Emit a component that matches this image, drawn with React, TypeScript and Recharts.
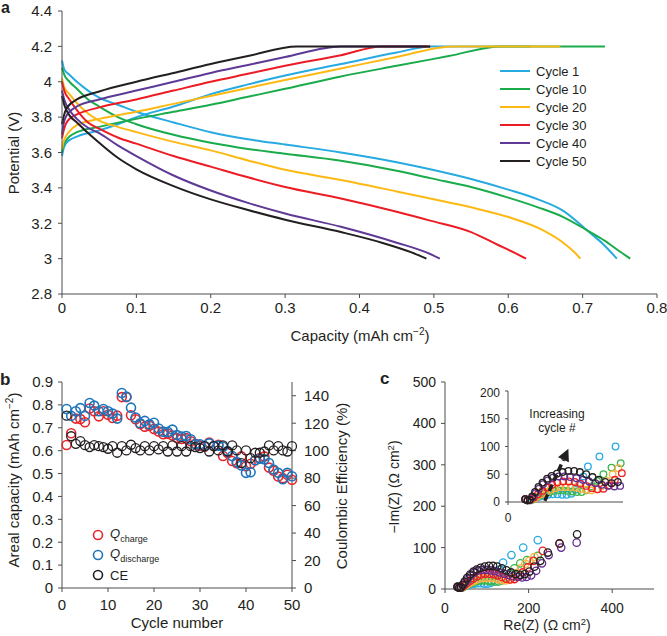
import React from 'react';
import { LineChart, Line, XAxis, YAxis, ScatterChart, Scatter, Legend } from 'recharts';

const FONT = '"Liberation Sans", Arial, Helvetica, sans-serif';
const INK = '#231f20';
const AXIS = '#4d4d4f';
const BOX = '#8a8a8a';

// ---------- panel a: charge / discharge profiles ----------
const cycleNames = ['Cycle 1', 'Cycle 10', 'Cycle 20', 'Cycle 30', 'Cycle 40', 'Cycle 50'];
const cycleColors = ['#27aae1', '#1aab4b', '#fdb913', '#ed1c24', '#5e3a96', '#231f20'];

const capTicks = [0, 0.1, 0.2, 0.3, 0.4, 0.5, 0.6, 0.7, 0.8];
const potTicks = [2.8, 3, 3.2, 3.4, 3.6, 3.8, 4, 4.2, 4.4];

// [capacity, potential]
const charge1 = [[0, 3.58], [0.002, 3.62], [0.005, 3.65], [0.01, 3.67], [0.02, 3.69], [0.05, 3.725], [0.075, 3.76], [0.1, 3.8], [0.15, 3.86], [0.2, 3.93], [0.25, 3.985], [0.3, 4.035], [0.375, 4.1], [0.45, 4.165], [0.495, 4.2], [0.63, 4.2]];
const charge10 = [[0, 3.6], [0.002, 3.64], [0.005, 3.665], [0.01, 3.69], [0.02, 3.715], [0.05, 3.745], [0.1, 3.79], [0.15, 3.83], [0.2, 3.87], [0.25, 3.915], [0.3, 3.96], [0.375, 4.03], [0.45, 4.09], [0.52, 4.145], [0.59, 4.2], [0.73, 4.2]];
const charge20 = [[0, 3.62], [0.002, 3.66], [0.005, 3.69], [0.01, 3.72], [0.02, 3.755], [0.05, 3.79], [0.1, 3.83], [0.15, 3.875], [0.2, 3.92], [0.25, 3.965], [0.3, 4.01], [0.375, 4.075], [0.45, 4.14], [0.525, 4.2], [0.67, 4.2]];
const charge30 = [[0, 3.68], [0.002, 3.72], [0.005, 3.76], [0.01, 3.79], [0.02, 3.815], [0.05, 3.855], [0.1, 3.9], [0.15, 3.95], [0.2, 4.0], [0.25, 4.045], [0.3, 4.09], [0.375, 4.15], [0.43, 4.2], [0.495, 4.2]];
const charge40 = [[0, 3.7], [0.002, 3.76], [0.005, 3.8], [0.01, 3.83], [0.02, 3.86], [0.05, 3.9], [0.1, 3.95], [0.15, 4.0], [0.2, 4.05], [0.25, 4.095], [0.3, 4.14], [0.375, 4.2], [0.49, 4.2]];
const charge50 = [[0, 3.76], [0.002, 3.8], [0.005, 3.84], [0.01, 3.87], [0.02, 3.9], [0.05, 3.945], [0.1, 4.0], [0.15, 4.05], [0.2, 4.1], [0.25, 4.145], [0.316, 4.2], [0.495, 4.2]];

const discharge1 = [[0, 4.12], [0.003, 4.07], [0.01, 4.04], [0.02, 4.0], [0.035, 3.95], [0.05, 3.91], [0.075, 3.87], [0.1, 3.83], [0.15, 3.77], [0.2, 3.715], [0.25, 3.675], [0.3, 3.645], [0.375, 3.6], [0.45, 3.545], [0.495, 3.505], [0.55, 3.45], [0.6, 3.39], [0.64, 3.335], [0.674, 3.27], [0.706, 3.16], [0.728, 3.08], [0.746, 3.0]];
const discharge10 = [[0, 4.08], [0.003, 4.04], [0.01, 4.0], [0.02, 3.96], [0.035, 3.9], [0.05, 3.86], [0.075, 3.8], [0.1, 3.76], [0.15, 3.7], [0.2, 3.655], [0.25, 3.62], [0.3, 3.593], [0.375, 3.553], [0.45, 3.497], [0.495, 3.455], [0.55, 3.405], [0.6, 3.345], [0.64, 3.29], [0.674, 3.235], [0.706, 3.16], [0.73, 3.1], [0.75, 3.04], [0.764, 3.0]];
const discharge20 = [[0, 4.02], [0.003, 3.97], [0.01, 3.93], [0.02, 3.88], [0.035, 3.82], [0.05, 3.78], [0.075, 3.745], [0.1, 3.715], [0.15, 3.66], [0.2, 3.612], [0.25, 3.555], [0.3, 3.502], [0.375, 3.445], [0.45, 3.38], [0.495, 3.34], [0.55, 3.29], [0.6, 3.235], [0.647, 3.16], [0.674, 3.09], [0.688, 3.04], [0.697, 3.0]];
const discharge30 = [[0, 4.0], [0.003, 3.95], [0.01, 3.9], [0.02, 3.84], [0.035, 3.77], [0.05, 3.735], [0.075, 3.685], [0.1, 3.65], [0.15, 3.58], [0.2, 3.52], [0.25, 3.46], [0.3, 3.405], [0.375, 3.34], [0.45, 3.265], [0.495, 3.215], [0.55, 3.15], [0.585, 3.08], [0.61, 3.03], [0.624, 3.0]];
const discharge40 = [[0, 3.95], [0.003, 3.9], [0.01, 3.84], [0.02, 3.79], [0.035, 3.74], [0.05, 3.71], [0.075, 3.64], [0.1, 3.58], [0.15, 3.47], [0.2, 3.385], [0.25, 3.315], [0.3, 3.255], [0.375, 3.18], [0.45, 3.09], [0.49, 3.035], [0.508, 3.0]];
const discharge50 = [[0, 3.92], [0.003, 3.87], [0.01, 3.81], [0.02, 3.77], [0.035, 3.71], [0.05, 3.655], [0.075, 3.57], [0.1, 3.505], [0.15, 3.41], [0.2, 3.335], [0.25, 3.275], [0.3, 3.22], [0.375, 3.15], [0.43, 3.09], [0.47, 3.035], [0.49, 3.0]];

const chargeCurves = [charge1, charge10, charge20, charge30, charge40, charge50];
const dischargeCurves = [discharge1, discharge10, discharge20, discharge30, discharge40, discharge50];

// ---------- panel b: cycling ----------
const cycleNumbers = Array.from({ length: 50 }, (_, i) => i + 1);
const cycleTicks = [0, 10, 20, 30, 40, 50];
const arealTicks = [0, 0.1, 0.2, 0.3, 0.4, 0.5, 0.6, 0.7, 0.8, 0.9];
const ceTicks = [0, 20, 40, 60, 80, 100, 120, 140];

const qCharge = [0.625, 0.676, 0.74, 0.738, 0.724, 0.784, 0.772, 0.75, 0.772, 0.757, 0.743, 0.753, 0.834, 0.834, 0.755, 0.737, 0.716, 0.705, 0.709, 0.695, 0.684, 0.672, 0.674, 0.666, 0.655, 0.651, 0.655, 0.641, 0.63, 0.622, 0.617, 0.636, 0.62, 0.626, 0.577, 0.59, 0.555, 0.545, 0.575, 0.532, 0.543, 0.558, 0.568, 0.575, 0.526, 0.512, 0.487, 0.48, 0.495, 0.473];
const qDischarge = [0.782, 0.752, 0.772, 0.786, 0.752, 0.808, 0.797, 0.772, 0.782, 0.772, 0.762, 0.74, 0.852, 0.836, 0.788, 0.745, 0.72, 0.73, 0.715, 0.722, 0.697, 0.683, 0.682, 0.692, 0.668, 0.662, 0.664, 0.65, 0.628, 0.628, 0.62, 0.632, 0.62, 0.622, 0.617, 0.598, 0.577, 0.55, 0.535, 0.503, 0.506, 0.558, 0.565, 0.562, 0.546, 0.518, 0.503, 0.475, 0.503, 0.488];
const coulombicEff = [125.5, 110.5, 105, 107, 104, 102.6, 104, 103.3, 102.6, 101.4, 103.3, 98.5, 103.3, 100.2, 104.3, 101.9, 100.2, 103.3, 100.2, 103.3, 100.9, 103.3, 99.4, 103.8, 99.4, 103.3, 99.4, 103.3, 102.6, 101.9, 103.3, 99.4, 103.3, 100.2, 103.8, 99.4, 103.8, 100.2, 91, 100.2, 94.5, 98.5, 98.5, 99.4, 103.8, 100.2, 103.3, 100.2, 99.4, 103.3];

// ---------- panel c: impedance ----------
const eisColors = ['#29abe2', '#39b54a', '#fbb040', '#ed1c24', '#662d91', '#231f20'];
const zTicks = [0, 200, 400];
const imTicks = [0, 50, 100, 150, 200, 250, 300, 350, 400, 450, 500];
const insetTicks = [0, 50, 100, 150, 200];

const reC1 = [30, 34, 39, 44, 50, 56, 63, 70, 78, 86, 94, 102, 110, 117, 124, 131, 139, 159, 187, 222];
const imC1 = [5, 3, 3, 5, 8, 10, 12, 13, 14, 14, 13, 13, 15, 22, 33, 46, 64, 82, 100, 118];
const reC10 = [30, 34, 39, 44, 50, 57, 64, 72, 80, 88, 96, 104, 112, 120, 128, 136, 145, 155, 166, 180, 196, 222];
const imC10 = [5, 3, 3, 5, 9, 12, 15, 18, 20, 21, 21, 20, 19, 18, 18, 21, 28, 38, 50, 62, 70, 80];
const reC20 = [30, 34, 39, 45, 51, 58, 66, 74, 82, 91, 100, 109, 118, 127, 136, 145, 154, 163, 172, 182, 192, 202, 214];
const imC20 = [5, 3, 3, 6, 10, 14, 18, 22, 25, 27, 27, 27, 26, 24, 22, 21, 23, 29, 38, 50, 61, 68, 77];
const reC30 = [30, 34, 39, 45, 52, 60, 68, 77, 86, 96, 106, 116, 126, 136, 146, 156, 166, 176, 186, 198, 212, 234, 274];
const imC30 = [5, 3, 4, 8, 14, 20, 26, 31, 35, 37, 37, 36, 33, 29, 25, 23, 24, 30, 40, 52, 68, 92, 110];
const reC40 = [30, 34, 38, 43, 48, 54, 61, 69, 78, 88, 98, 108, 119, 130, 141, 152, 163, 174, 185, 195, 206, 218, 232, 248, 278, 315];
const imC40 = [5, 3, 4, 9, 16, 24, 32, 39, 44, 46, 46, 45, 43, 40, 37, 34, 31, 29, 28, 29, 33, 44, 62, 82, 100, 112];
const reC50 = [30, 34, 38, 42, 47, 53, 60, 68, 76, 85, 95, 105, 115, 125, 136, 147, 158, 169, 180, 191, 202, 214, 228, 246, 274, 316];
const imC50 = [5, 3, 4, 10, 18, 27, 35, 42, 47, 51, 54, 56, 56, 54, 50, 45, 40, 36, 34, 36, 42, 54, 68, 88, 110, 132];

const eisRe = [reC1, reC10, reC20, reC30, reC40, reC50];
const eisIm = [imC1, imC10, imC20, imC30, imC40, imC50];

// inset plot box on the page, and the arrow (in inset data units) drawn over it
const INSET = { left: 508, top: 391, width: 115, height: 111, reMax: 200, imMax: 200 };
const arrowFrom = { re: 64, im: 2 };
const arrowTo = { re: 105, im: 96 };

// ---------- helpers ----------
const tickFont = (size: number) => ({ fill: INK, fontSize: size, fontFamily: FONT });

const ring = (color: string, r: number, sw: number) => (p: any) => (
  <circle cx={p.cx} cy={p.cy} r={r} fill="none" stroke={color} strokeWidth={sw} />
);

const insetX = (re: number) => INSET.left + (re / INSET.reMax) * INSET.width;
const insetY = (im: number) => INSET.top + INSET.height - (im / INSET.imMax) * INSET.height;

const Arrow = () => {
  const x1 = insetX(arrowFrom.re);
  const y1 = insetY(arrowFrom.im);
  const x2 = insetX(arrowTo.re);
  const y2 = insetY(arrowTo.im);
  const dx = x2 - x1;
  const dy = y2 - y1;
  const len = Math.hypot(dx, dy) || 1;
  const ux = dx / len;
  const uy = dy / len;
  const bx = x2 - ux * 12;
  const by = y2 - uy * 12;
  const nx = -uy * 6;
  const ny = ux * 6;
  return (
    <g>
      <line x1={x1} y1={y1} x2={bx} y2={by} stroke={INK} strokeWidth={3.5} strokeDasharray="7 4" />
      <polygon points={`${x2},${y2} ${bx + nx},${by + ny} ${bx - nx},${by - ny}`} fill={INK} />
    </g>
  );
};

const CycleLegend = () => (
  <div style={{ fontFamily: FONT, fontSize: 13, color: INK }}>
    {cycleNames.map((n, i) => (
      <div key={n} style={{ display: 'flex', alignItems: 'center', height: 18 }}>
        <span style={{ display: 'inline-block', width: 30, height: 2.5, background: cycleColors[i], marginRight: 6 }} />
        <span>{n}</span>
      </div>
    ))}
  </div>
);

const legendB = [
  { color: '#e8262c', main: 'Q', sub: 'charge' },
  { color: '#1c75bc', main: 'Q', sub: 'discharge' },
  { color: INK, main: 'CE', sub: '' },
];

const CyclingLegend = () => (
  <div style={{ fontFamily: FONT, fontSize: 13, color: INK }}>
    {legendB.map((d) => (
      <div key={d.sub + d.main} style={{ display: 'flex', alignItems: 'center', height: 20 }}>
        <svg width={12} height={12} style={{ marginRight: 6 }}>
          <circle cx={6} cy={6} r={4.5} fill="none" stroke={d.color} strokeWidth={1.6} />
        </svg>
        {d.sub ? (
          <span>
            <i>{d.main}</i>
            <sub style={{ fontSize: 9 }}>{d.sub}</sub>
          </span>
        ) : (
          <span>{d.main}</span>
        )}
      </div>
    ))}
  </div>
);

export default function App() {
  const chargeData = chargeCurves.map((c) => c.map(([cap, v]) => ({ cap, v })));
  const dischargeData = dischargeCurves.map((c) => c.map(([cap, v]) => ({ cap, v })));
  const chargeB = cycleNumbers.map((n, i) => ({ n, q: qCharge[i] }));
  const dischargeB = cycleNumbers.map((n, i) => ({ n, q: qDischarge[i] }));
  const ceB = cycleNumbers.map((n, i) => ({ n, ce: coulombicEff[i] }));
  const eisData = eisRe.map((res, k) => res.map((re, i) => ({ re, im: eisIm[k][i] })));
  const eisInset = eisData.map((d) => d.filter((p) => p.re <= INSET.reMax));

  return (
    <div style={{ position: 'absolute', left: 0, top: 0, width: 667, height: 636, background: '#fff', fontFamily: FONT }}>
      {/* panel a */}
      <div style={{ position: 'absolute', left: 0, top: 0 }}>
        <LineChart width={667} height={345} margin={{ top: 11, right: 10, bottom: 0, left: 0 }}>
          <XAxis type="number" dataKey="cap" domain={[0, 0.8]} ticks={capTicks} height={51} tickSize={4} tickMargin={4}
            axisLine={{ stroke: AXIS }} tickLine={{ stroke: AXIS }} tick={tickFont(15)} />
          <XAxis xAxisId="top" orientation="top" type="number" domain={[0, 1]} height={0} tick={false} tickLine={false}
            axisLine={{ stroke: BOX }} />
          <YAxis type="number" domain={[2.8, 4.4]} ticks={potTicks} width={62} tickSize={4} tickMargin={6}
            axisLine={{ stroke: AXIS }} tickLine={{ stroke: AXIS }} tick={tickFont(15)} />
          <YAxis yAxisId="right" orientation="right" type="number" domain={[0, 1]} width={0} tick={false} tickLine={false}
            axisLine={{ stroke: BOX }} />
          {cycleNames.map((name, i) => (
            <React.Fragment key={name}>
              <Line data={chargeData[i]} dataKey="v" name={name} type="monotone" stroke={cycleColors[i]} strokeWidth={2}
                dot={false} isAnimationActive={false} />
              <Line data={dischargeData[i]} dataKey="v" name={name + ' discharge'} type="monotone" stroke={cycleColors[i]}
                strokeWidth={2} dot={false} legendType="none" isAnimationActive={false} />
            </React.Fragment>
          ))}
          <Legend layout="vertical" align="center" verticalAlign="middle" content={<CycleLegend />}
            wrapperStyle={{ left: 500, top: 62, width: 110 }} />
        </LineChart>
      </div>

      {/* panel b */}
      <div style={{ position: 'absolute', left: 0, top: 360 }}>
        <ScatterChart width={340} height={276} margin={{ top: 22, right: 0, bottom: 0, left: 0 }}>
          <XAxis type="number" dataKey="n" domain={[0, 50]} ticks={cycleTicks} height={48} tickSize={4} tickMargin={7}
            axisLine={{ stroke: AXIS }} tickLine={{ stroke: AXIS }} tick={tickFont(15)} />
          <YAxis yAxisId="cap" type="number" dataKey="q" domain={[0, 0.9]} ticks={arealTicks} width={62} tickSize={4}
            tickMargin={5} axisLine={{ stroke: AXIS }} tickLine={{ stroke: AXIS }} tick={tickFont(15)} />
          <YAxis yAxisId="ce" orientation="right" type="number" dataKey="ce" domain={[0, 150]} ticks={ceTicks} width={48}
            tickSize={4} tickMargin={8} axisLine={{ stroke: AXIS }} tickLine={{ stroke: AXIS }} tick={tickFont(15)} />
          <Scatter yAxisId="cap" data={chargeB} shape={ring('#e8262c', 4.5, 1.6)} isAnimationActive={false} legendType="none" />
          <Scatter yAxisId="cap" data={dischargeB} shape={ring('#1c75bc', 4.5, 1.6)} isAnimationActive={false} legendType="none" />
          <Scatter yAxisId="ce" data={ceB} shape={ring(INK, 4.5, 1.3)} isAnimationActive={false} legendType="none" />
          <Legend layout="vertical" align="center" verticalAlign="middle" content={<CyclingLegend />}
            wrapperStyle={{ left: 92, top: 165, width: 110 }} />
        </ScatterChart>
      </div>

      {/* panel c, main */}
      <div style={{ position: 'absolute', left: 340, top: 360 }}>
        <ScatterChart width={327} height={276} margin={{ top: 22, right: 13, bottom: 0, left: 0 }}>
          <XAxis type="number" dataKey="re" domain={[0, 500]} ticks={zTicks} height={47} tickSize={4} tickMargin={10}
            axisLine={{ stroke: AXIS }} tickLine={{ stroke: AXIS }} tick={tickFont(14)} />
          <XAxis xAxisId="top" orientation="top" type="number" domain={[0, 1]} height={0} tick={false} tickLine={false}
            axisLine={{ stroke: BOX }} />
          <YAxis type="number" dataKey="im" domain={[0, 500]} ticks={imTicks} width={105} tickSize={4} tickMargin={5}
            axisLine={{ stroke: AXIS }} tickLine={{ stroke: AXIS }} tick={tickFont(14)} />
          <YAxis yAxisId="right" orientation="right" type="number" domain={[0, 1]} width={0} tick={false} tickLine={false}
            axisLine={{ stroke: BOX }} />
          {eisData.map((d, k) => (
            <Scatter key={k} data={d} shape={ring(eisColors[k], 3.7, 1.3)} isAnimationActive={false} />
          ))}
        </ScatterChart>
      </div>

      {/* panel c, inset */}
      <div style={{ position: 'absolute', left: 460, top: 385 }}>
        <ScatterChart width={170} height={145} margin={{ top: 6, right: 7, bottom: 0, left: 0 }}>
          <XAxis type="number" dataKey="re" domain={[0, INSET.reMax]} ticks={[0]} height={28} tickSize={3} tickMargin={8}
            axisLine={{ stroke: AXIS }} tickLine={{ stroke: AXIS }} tick={tickFont(12)} />
          <XAxis xAxisId="top" orientation="top" type="number" domain={[0, 1]} height={0} tick={false} tickLine={false}
            axisLine={{ stroke: AXIS }} />
          <YAxis type="number" dataKey="im" domain={[0, INSET.imMax]} ticks={insetTicks} width={48} tickSize={3} tickMargin={5}
            axisLine={{ stroke: AXIS }} tickLine={{ stroke: AXIS }} tick={tickFont(12)} />
          <YAxis yAxisId="right" orientation="right" type="number" domain={[0, 1]} width={0} tick={false} tickLine={false}
            axisLine={{ stroke: AXIS }} />
          {eisInset.map((d, k) => (
            <Scatter key={k} data={d} shape={ring(eisColors[k], 3.3, 1.3)} isAnimationActive={false} />
          ))}
        </ScatterChart>
      </div>

      {/* titles, panel letters and the inset annotation */}
      <svg width={667} height={636} style={{ position: 'absolute', left: 0, top: 0, pointerEvents: 'none' }}
        fontFamily={FONT} fill={INK}>
        <text x={1} y={13} fontSize={16} fontWeight="bold">a</text>
        <text x={0} y={385} fontSize={17} fontWeight="bold">b</text>
        <text x={380} y={384} fontSize={17} fontWeight="bold">c</text>

        <text transform="translate(19,153) rotate(-90)" textAnchor="middle" fontSize={15}>Potential (V)</text>
        <text x={360} y={341} textAnchor="middle" fontSize={15}>
          Capacity (mAh cm<tspan dy={-6} fontSize={10}>−2</tspan><tspan dy={6}>)</tspan>
        </text>

        <text transform="translate(19,480) rotate(-90)" textAnchor="middle" fontSize={15}>
          Areal capacity (mAh cm<tspan dy={-6} fontSize={10}>−2</tspan><tspan dy={6}>)</tspan>
        </text>
        <text transform="translate(347,486) rotate(-90)" textAnchor="middle" fontSize={15}>Coulombic Efficiency (%)</text>
        <text x={177} y={628} textAnchor="middle" fontSize={15}>Cycle number</text>

        <text transform="translate(399,487) rotate(-90)" textAnchor="middle" fontSize={14}>
          −Im(Z) (Ω cm<tspan dy={-5} fontSize={9.5}>2</tspan><tspan dy={5}>)</tspan>
        </text>
        <text x={547} y={630} textAnchor="middle" fontSize={14}>
          Re(Z) (Ω cm<tspan dy={-5} fontSize={9.5}>2</tspan><tspan dy={5}>)</tspan>
        </text>

        <text x={557} y={418} textAnchor="middle" fontSize={12}>Increasing</text>
        <text x={557} y={432} textAnchor="middle" fontSize={12}>cycle #</text>
        <Arrow />
      </svg>
    </div>
  );
}
